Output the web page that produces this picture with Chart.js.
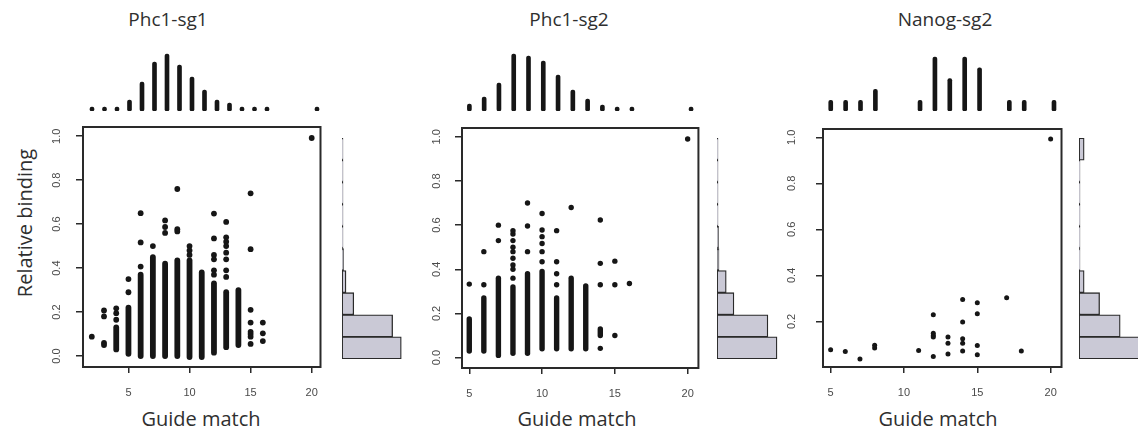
<!DOCTYPE html>
<html>
<head>
<meta charset="utf-8">
<script src="https://cdn.jsdelivr.net/npm/chart.js@4.4.1/dist/chart.umd.min.js"></script>
<style>
  html, body { margin: 0; padding: 0; background: #fff; overflow: hidden; }
  body { width: 1138px; height: 439px; position: relative; font-family: "Open Sans", sans-serif; }
  canvas { position: absolute; }
  .lbl { position: absolute; color: #2f2f2f; white-space: nowrap; transform: translate(-50%, -50%); }
  .title { font-size: 19px; }
  .axis { font-size: 20px; }
</style>
</head>
<body>
<div class="lbl title" style="left:168px;top:19px">Phc1-sg1</div>
<div class="lbl title" style="left:569px;top:19px">Phc1-sg2</div>
<div class="lbl title" style="left:945px;top:19px">Nanog-sg2</div>
<div class="lbl axis" style="left:201px;top:418px">Guide match</div>
<div class="lbl axis" style="left:577px;top:418px">Guide match</div>
<div class="lbl axis" style="left:938px;top:418px">Guide match</div>
<div class="lbl axis" style="left:24px;top:223px;transform:translate(-50%,-50%) rotate(-90deg)">Relative binding</div>

<canvas id="top1" width="243" height="60" style="left:83px;top:51px"></canvas>
<canvas id="sc1" width="293" height="285" style="left:38px;top:122px"></canvas>
<canvas id="hi1" width="62" height="221" style="left:342px;top:138px"></canvas>

<canvas id="top2" width="240" height="60" style="left:462px;top:51px"></canvas>
<canvas id="sc2" width="290" height="285" style="left:417px;top:123px"></canvas>
<canvas id="hi2" width="62" height="221" style="left:717px;top:138px"></canvas>

<canvas id="top3" width="242" height="60" style="left:823px;top:51px"></canvas>
<canvas id="sc3" width="292" height="283" style="left:778px;top:124px"></canvas>
<canvas id="hi3" width="62" height="221" style="left:1079px;top:138px"></canvas>

<script>
// ---- Phc1-sg1 ----
const sg1Match = [2, 3, 4, 5, 6, 7, 8, 9, 10, 11, 12, 13, 14, 15, 16, 20];
const sg1MatchCount = [1, 1, 1, 11, 29, 49, 57, 46, 34, 21, 11, 8, 4, 2, 1, 1];
// dense stacks of guides: match value, lowest and highest binding
const sg1StackX = [4, 5, 6, 7, 8, 9, 10, 11, 12, 13, 14];
const sg1StackLo = [0.03, 0.01, 0.0, 0.0, 0.0, 0.0, -0.005, -0.005, 0.015, 0.04, 0.05];
const sg1StackHi = [0.13, 0.22, 0.37, 0.45, 0.42, 0.435, 0.435, 0.38, 0.33, 0.29, 0.30];
// single guides outside the stacks
const sg1X = [2, 3, 3, 3, 3, 4, 4, 4, 5, 5, 6, 6, 6, 7, 8, 8, 8, 9, 9, 9, 10, 10, 10,
  12, 12, 12, 12, 12, 12, 13, 13, 13, 13, 13, 13, 13, 13,
  15, 15, 15, 15, 15, 15, 15, 15, 16, 16, 16, 20];
const sg1Y = [0.088, 0.207, 0.18, 0.06, 0.05, 0.217, 0.195, 0.165, 0.29, 0.35, 0.65, 0.517, 0.407,
  0.50, 0.617, 0.587, 0.56, 0.76, 0.577, 0.567, 0.50, 0.48, 0.46,
  0.648, 0.535, 0.46, 0.44, 0.39, 0.37, 0.61, 0.54, 0.52, 0.50, 0.47, 0.44, 0.39, 0.36,
  0.74, 0.486, 0.21, 0.152, 0.11, 0.10, 0.088, 0.055, 0.152, 0.103, 0.068, 0.992];
const sg1Hist = [45.9, 39.2, 9.1, 3.1, 1.2, 0.5, 0.3, 0.2, 0.2, 0.2];

// ---- Phc1-sg2 ----
const sg2Match = [5, 6, 7, 8, 9, 10, 11, 12, 13, 14, 15, 16, 20];
const sg2MatchCount = [7, 14, 28, 57, 55, 50, 36, 21, 12, 6, 1, 1, 1];
const sg2StackX = [5, 6, 7, 8, 9, 10, 11, 12, 13, 14];
const sg2StackLo = [0.03, 0.03, 0.01, 0.02, 0.02, 0.04, 0.04, 0.04, 0.04, 0.10];
const sg2StackHi = [0.175, 0.27, 0.36, 0.32, 0.38, 0.39, 0.27, 0.36, 0.325, 0.13];
const sg2X = [5, 6, 6, 7, 7, 8, 8, 8, 8, 8, 8, 8, 8, 8, 9, 9, 9,
  10, 10, 10, 10, 10, 10, 11, 11, 11, 11, 12, 14, 14, 14, 14, 15, 15, 15, 16, 20];
const sg2Y = [0.333, 0.48, 0.33, 0.60, 0.53, 0.36, 0.40, 0.42, 0.45, 0.48, 0.50, 0.53, 0.56, 0.575,
  0.70, 0.596, 0.48, 0.653, 0.578, 0.548, 0.517, 0.48, 0.434, 0.575, 0.434, 0.38, 0.33,
  0.68, 0.623, 0.427, 0.33, 0.042, 0.437, 0.33, 0.10, 0.336, 0.99];
const sg2Hist = [42.2, 35.8, 11.9, 6.5, 1.4, 1.1, 0.35, 0.3, 0.2, 0.2];

// ---- Nanog-sg2 ----
const nanogMatch = [5, 6, 7, 8, 11, 12, 13, 14, 15, 17, 18, 20];
const nanogMatchCount = [1, 1, 1, 2, 1, 5, 3, 5, 4, 1, 1, 1];
const nanogX = [5, 6, 7, 8, 8, 11, 12, 12, 12, 12, 12, 13, 13, 13,
  14, 14, 14, 14, 14, 15, 15, 15, 15, 17, 18, 20];
const nanogY = [0.077, 0.069, 0.037, 0.096, 0.085, 0.074, 0.229, 0.149, 0.139, 0.132, 0.048,
  0.132, 0.105, 0.059, 0.295, 0.197, 0.125, 0.105, 0.071, 0.281, 0.233, 0.095, 0.055,
  0.303, 0.071, 0.993];
const nanogHist = [12, 8, 4, 1, 0, 0, 0, 0, 0, 1];

// shared axes
const bindingBins = ['0.0-0.1', '0.1-0.2', '0.2-0.3', '0.3-0.4', '0.4-0.5',
  '0.5-0.6', '0.6-0.7', '0.7-0.8', '0.8-0.9', '0.9-1.0'];
const matchTicks = [5, 10, 15, 20];
const bindingTicks = [0.0, 0.2, 0.4, 0.6, 0.8, 1.0];

const INK = '#161616';
const FRAME = '#2a2a2a';
const TICK_FONT = { family: '"Liberation Sans", Arial, sans-serif', size: 11 };

// frame round the plot region
const boxPlugin = {
  id: 'box',
  afterDatasetsDraw(chart) {
    const a = chart.chartArea, ctx = chart.ctx;
    ctx.save();
    ctx.strokeStyle = FRAME;
    ctx.lineWidth = 2;
    ctx.strokeRect(a.left, a.top, a.right - a.left, a.bottom - a.top);
    ctx.restore();
  }
};

// y tick labels turned to run along the axis
const sideLabels = {
  id: 'sideLabels',
  afterDraw(chart, args, opts) {
    const { ctx, chartArea, scales } = chart;
    ctx.save();
    ctx.font = TICK_FONT.size + 'px ' + TICK_FONT.family;
    ctx.fillStyle = '#4a4a4a';
    ctx.textAlign = 'center';
    ctx.textBaseline = 'middle';
    scales.y.ticks.forEach(t => {
      const y = scales.y.getPixelForValue(t.value);
      ctx.save();
      ctx.translate(chartArea.left - opts.gap, y);
      ctx.rotate(-Math.PI / 2);
      ctx.fillText(t.value.toFixed(1), 0, 0);
      ctx.restore();
    });
    ctx.restore();
  }
};

function scatterPanel(id, xs, ys, stackX, stackLo, stackHi, xMin, xMax, yMin, yMax, yTicks, gap, dot) {
  const datasets = stackX.map((x, i) => ({
    type: 'line',
    data: [{ x: x, y: stackLo[i] }, { x: x, y: stackHi[i] }],
    borderColor: INK,
    borderWidth: dot * 2,
    borderCapStyle: 'round',
    pointRadius: 0,
    tension: 0
  }));
  datasets.push({
    data: xs.map((x, i) => ({ x: x, y: ys[i] })),
    backgroundColor: INK,
    borderWidth: 0,
    pointRadius: dot
  });
  new Chart(document.getElementById(id), {
    type: 'scatter',
    data: { datasets },
    options: {
      responsive: false,
      animation: false,
      events: [],
      layout: { padding: { top: 5, right: 5, left: 0, bottom: 0 } },
      plugins: { legend: { display: false }, tooltip: { enabled: false }, sideLabels: { gap: gap } },
      scales: {
        x: {
          type: 'linear', min: xMin, max: xMax,
          afterBuildTicks: s => { s.ticks = matchTicks.map(v => ({ value: v })); },
          afterFit: s => { s.height = 40; },
          grid: { drawOnChartArea: false, drawTicks: true, tickLength: 6, color: FRAME, lineWidth: 1.5 },
          border: { display: false },
          ticks: { font: TICK_FONT, color: '#4a4a4a', padding: 13, maxRotation: 0 }
        },
        y: {
          type: 'linear', min: yMin, max: yMax,
          afterBuildTicks: s => { s.ticks = yTicks.map(v => ({ value: v })); },
          afterFit: s => { s.width = 45; },
          grid: { drawOnChartArea: false, drawTicks: true, tickLength: 7, color: FRAME, lineWidth: 1.5 },
          border: { display: false },
          ticks: { display: false }
        }
      }
    },
    plugins: [boxPlugin, sideLabels]
  });
}

function topPanel(id, match, counts, xMin, xMax, yMax) {
  new Chart(document.getElementById(id), {
    type: 'bar',
    data: {
      datasets: [{
        data: match.map((x, i) => ({ x: x, y: counts[i] })),
        backgroundColor: INK,
        barThickness: 4,
        borderRadius: 2,
        borderSkipped: false,
        minBarLength: 4,
        grouped: false
      }]
    },
    options: {
      responsive: false,
      animation: false,
      events: [],
      layout: { padding: 0 },
      plugins: { legend: { display: false }, tooltip: { enabled: false } },
      scales: {
        x: { type: 'linear', min: xMin, max: xMax, offset: false, grid: { offset: false }, display: false },
        y: { min: 0, max: yMax, display: false }
      }
    }
  });
}

function histPanel(id, values, xMax) {
  new Chart(document.getElementById(id), {
    type: 'bar',
    data: {
      labels: bindingBins,
      datasets: [{
        data: values,
        backgroundColor: '#cac9d6',
        borderColor: FRAME,
        borderWidth: 1.3,
        borderSkipped: false,
        minBarLength: 1,
        categoryPercentage: 1,
        barPercentage: 1
      }]
    },
    options: {
      indexAxis: 'y',
      responsive: false,
      animation: false,
      events: [],
      layout: { padding: 0 },
      plugins: { legend: { display: false }, tooltip: { enabled: false } },
      scales: {
        x: { min: 0, max: xMax, display: false },
        y: { reverse: true, display: false }
      }
    }
  });
}

topPanel('top1', sg1Match, sg1MatchCount, 1.28, 20.72, 60);
scatterPanel('sc1', sg1X, sg1Y, sg1StackX, sg1StackLo, sg1StackHi, 1.28, 20.72, -0.05, 1.042, bindingTicks, 26, 2.9);
histPanel('hi1', sg1Hist, 48);

topPanel('top2', sg2Match, sg2MatchCount, 4.5, 20.74, 60);
scatterPanel('sc2', sg2X, sg2Y, sg2StackX, sg2StackLo, sg2StackHi, 4.5, 20.74, -0.047, 1.04, bindingTicks, 25, 2.7);
histPanel('hi2', sg2Hist, 43.6);

topPanel('top3', nanogMatch, nanogMatchCount, 4.48, 20.74, 5.56);
scatterPanel('sc3', nanogX, nanogY, [], [], [], 4.48, 20.74, 0.002, 1.036, bindingTicks.slice(1), 31, 2.5);
histPanel('hi3', nanogHist, 12.04);
</script>
</body>
</html>
